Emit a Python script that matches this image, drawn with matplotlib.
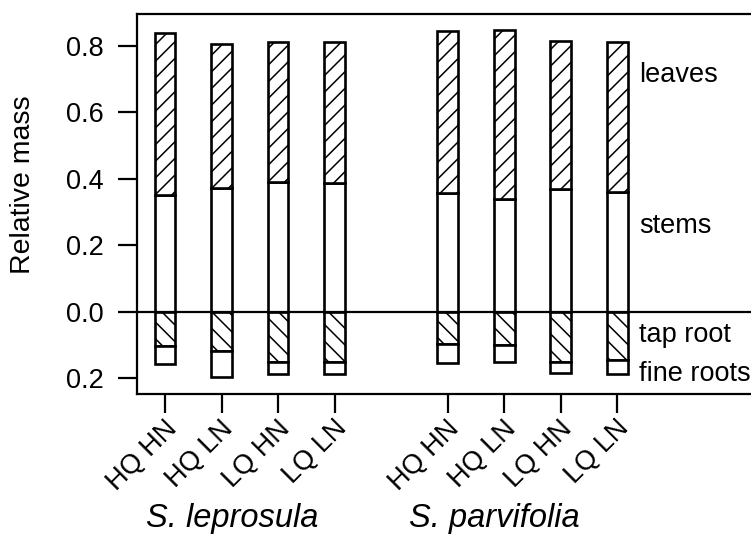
import numpy as np
import matplotlib
matplotlib.use("Agg")
import matplotlib.pyplot as plt
from matplotlib.transforms import ScaledTranslation

plt.rcParams['font.family'] = ['Liberation Sans', 'DejaVu Sans']
plt.rcParams['hatch.linewidth'] = 1.1

# biomass fractions per treatment (above ground positive, roots negative)
treatments = ['HQ HN', 'HQ LN', 'LQ HN', 'LQ LN', 'HQ HN', 'HQ LN', 'LQ HN', 'LQ LN']
species = ['S. leprosula', 'S. parvifolia']
stems = [0.352, 0.374, 0.390, 0.387, 0.359, 0.339, 0.370, 0.362]
leaves = [0.488, 0.431, 0.421, 0.424, 0.487, 0.509, 0.445, 0.449]
tap_root = [0.102, 0.117, 0.152, 0.150, 0.096, 0.099, 0.151, 0.146]
fine_roots = [0.055, 0.078, 0.034, 0.036, 0.057, 0.051, 0.032, 0.040]

xpos = np.array([1, 2, 3, 4, 6, 7, 8, 9])
w = 0.37

fig = plt.figure(figsize=(7.51, 5.34), dpi=100)
ax = fig.add_axes([0.1824, 0.2622, 1 - 0.1824, 0.7116])

stems = np.array(stems)
leaves = np.array(leaves)
tap_root = np.array(tap_root)
fine_roots = np.array(fine_roots)

bk = dict(width=w, facecolor='white', edgecolor='black', linewidth=1.9)
ax.bar(xpos, stems, **bk)
ax.bar(xpos, leaves, bottom=stems, hatch='//', **bk)
ax.bar(xpos, -tap_root, hatch='\\\\', **bk)
ax.bar(xpos, -fine_roots, bottom=-tap_root, **bk)

ax.axhline(0, color='black', lw=1.6, zorder=3)

ax.set_xlim(0.504, 11.37)
ax.set_ylim(-0.247, 0.896)

yt = [-0.2, 0.0, 0.2, 0.4, 0.6, 0.8]
ax.set_yticks(yt)
ax.set_yticklabels(['%.1f' % abs(v) for v in yt], fontsize=19.5)
ax.set_xticks(xpos)
ax.set_xticklabels(treatments, rotation=45, ha='right', va='center',
                   rotation_mode='anchor', fontsize=19.5)
ax.tick_params(axis='both', length=14, width=1.6, pad=10)
ax.tick_params(axis='x', pad=8)
shift = ScaledTranslation(8 / 100, 0, fig.dpi_scale_trans)
for lab in ax.get_xticklabels():
    lab.set_transform(lab.get_transform() + shift)

for s in ['left', 'top', 'bottom']:
    ax.spines[s].set_linewidth(1.6)
ax.spines['right'].set_visible(False)

ax.set_ylabel('Relative mass', fontsize=20.5, va='center')
ax.yaxis.set_label_coords(-0.186, 0.55)

# component labels on the right
lx = 9.39
ax.text(lx, 0.713, 'leaves', fontsize=19.5, va='center')
ax.text(lx, 0.257, 'stems', fontsize=19.5, va='center')
ax.text(lx, -0.069, 'tap root', fontsize=19.5, va='center')
ax.text(lx, -0.186, 'fine roots', fontsize=19.5, va='center')

# species names under each group
for sx, name in zip([2.18, 6.82], species):
    ax.text(sx, -0.647, name, fontsize=23.5, style='italic', ha='center',
            va='baseline', clip_on=False)

fig.savefig('out.png', dpi=100)
